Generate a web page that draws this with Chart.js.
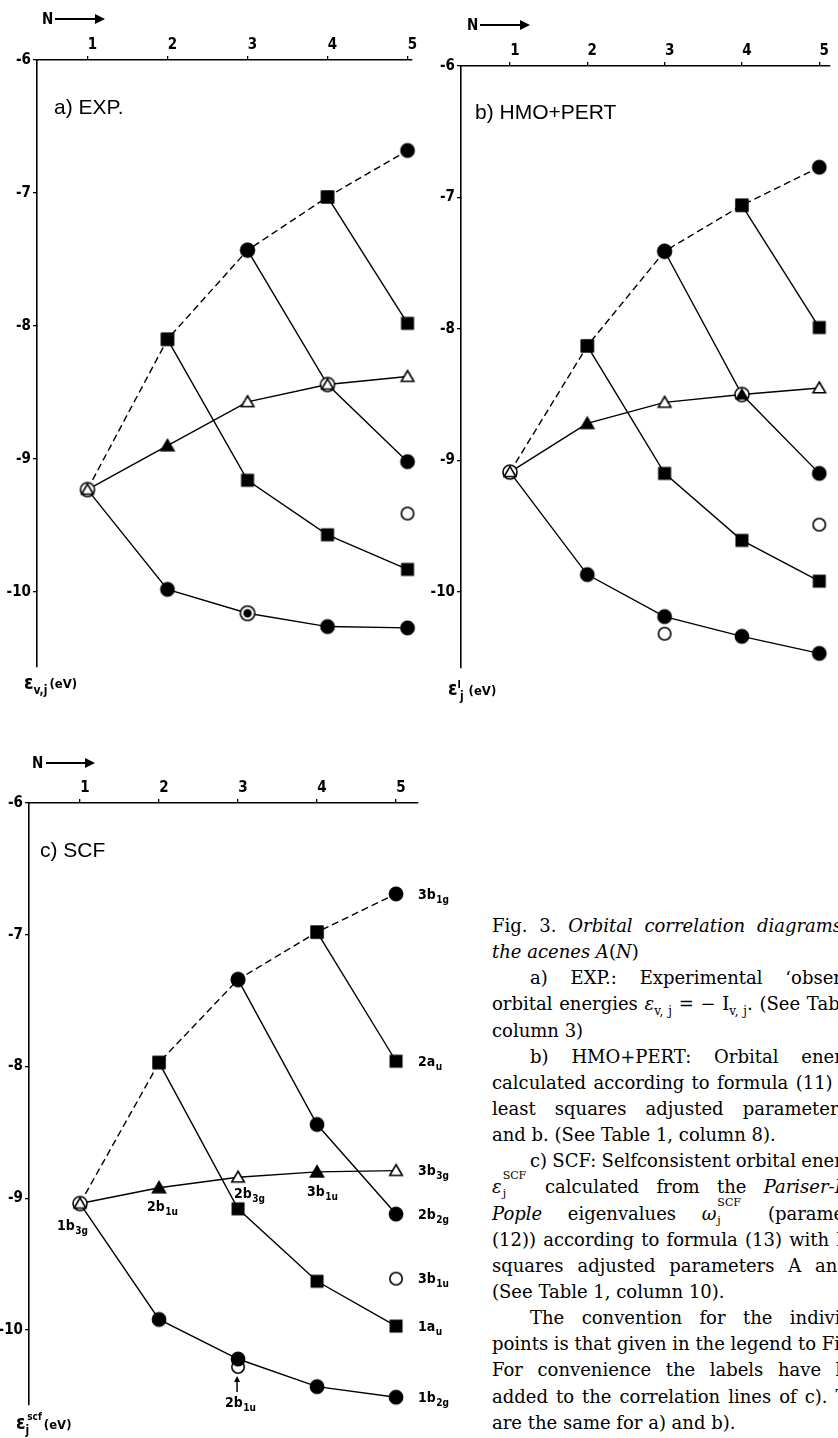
<!DOCTYPE html>
<html>
<head>
<meta charset="utf-8">
<title>Fig. 3 orbital correlation diagrams</title>
<script src="https://cdn.jsdelivr.net/npm/chart.js"></script>
<style>
  html, body { margin: 0; padding: 0; background: #fff; }
  body { position: relative; width: 838px; height: 1438px; overflow: hidden; color: #000; }
  canvas { position: absolute; }
  .lbl { position: absolute; white-space: nowrap; font-family: "DejaVu Sans Condensed", "DejaVu Sans", sans-serif; font-weight: bold; }
  .title { position: absolute; white-space: nowrap; font-family: "Liberation Sans", Arial, sans-serif; font-size: 21px; line-height: 24px; }
  .arrow { position: absolute; height: 0; border-top: 2px solid #000; }
  .arrow::after { content: ""; position: absolute; right: -9px; top: -6px; border-left: 10px solid #000; border-top: 5px solid transparent; border-bottom: 5px solid transparent; }
  #caption { position: absolute; left: 492px; top: 913px; font-family: "DejaVu Serif", serif; font-size: 18px; }
  #caption div { white-space: nowrap; height: 26.15px; line-height: 26.15px; }
  #caption sub, #caption sup { font-size: 12px; line-height: 0; }
  .ss { position: relative; display: inline-block; width: 26px; height: 1px; }
  .ss .sp, .ss .sb { position: absolute; left: 1px; font-size: 11px; line-height: 11px; }
  .ss .sp { top: -22px; }
  .ss .sb { top: -4px; }
</style>
</head>
<body>
<canvas id="chartA" width="420" height="680" style="left:0;top:0"></canvas>
<canvas id="chartB" width="418" height="680" style="left:420px;top:0"></canvas>
<canvas id="chartC" width="480" height="698" style="left:0;top:740px"></canvas>

<!-- N arrows -->
<div class="lbl" style="left:42px;top:10px;font-size:15px;line-height:18px">N</div>
<div class="arrow" style="left:55px;top:18px;width:41px"></div>
<div class="lbl" style="left:467px;top:16px;font-size:15px;line-height:18px">N</div>
<div class="arrow" style="left:480px;top:24px;width:41px"></div>
<div class="lbl" style="left:32px;top:754px;font-size:15px;line-height:18px">N</div>
<div class="arrow" style="left:46px;top:762px;width:40px"></div>

<!-- panel titles -->
<div class="title" style="left:54px;top:95px">a) EXP.</div>
<div class="title" style="left:475px;top:100px">b) HMO+PERT</div>
<div class="title" style="left:40px;top:838px">c) SCF</div>

<!-- y axis labels -->
<div class="lbl" style="left:24px;top:670px;font-size:13px;line-height:24px"><span style="font-size:19px">ε</span><span style="font-size:12px;position:relative;top:5px">v,j</span><span style="position:relative;top:-1px;margin-left:2px">(eV)</span></div>
<div class="lbl" style="left:448px;top:676px;font-size:13px;line-height:24px"><span style="font-size:19px">ε</span><span style="font-size:10px;position:relative;top:-7px">I</span><span style="font-size:12px;position:relative;top:5px;margin-left:-1px">j</span><span style="margin-left:5px">(eV)</span></div>
<div class="lbl" style="left:16px;top:1410px;font-size:13px;line-height:24px"><span style="font-size:19px">ε</span><span style="font-size:12px;position:relative;top:5px">j</span><span style="font-size:10px;position:relative;top:-9px;margin-left:-2px">scf</span><span style="margin-left:2px">(eV)</span></div>

<div id="caption"></div>

<script>
// N = number of rings in the acene A(N)
const nTicks = [1, 2, 3, 4, 5];
const eTicks = [-6, -7, -8, -9, -10];

// a) EXP.
const expUpper = [-9.23, -8.10, -7.43, -7.03, -6.68];   // N 1..5 (dashed)
const expFrom2 = [-8.10, -9.16, -9.57, -9.83];          // N 2..5
const expFrom3 = [-7.43, -8.44, -9.02];                 // N 3..5
const expFrom4 = [-7.03, -7.98];                        // N 4..5
const expTri   = [-9.23, -8.90, -8.57, -8.44, -8.38];   // N 1..5
const expLow   = [-9.23, -9.98, -10.16, -10.26, -10.27];// N 1..5
const expLoneN = [5];
const expLone  = [-9.41];

// b) HMO+PERT
const hmoUpper = [-9.09, -8.13, -7.41, -7.06, -6.77];
const hmoFrom2 = [-8.13, -9.10, -9.61, -9.92];
const hmoFrom3 = [-7.41, -8.50, -9.10];
const hmoFrom4 = [-7.06, -7.99];
const hmoTri   = [-9.09, -8.72, -8.56, -8.50, -8.45];
const hmoLow   = [-9.09, -9.87, -10.19, -10.34, -10.47];
const hmoLoneN = [5, 3];
const hmoLone  = [-9.49, -10.32];

// c) SCF
const scfUpper = [-9.04, -7.97, -7.34, -6.98, -6.69];
const scfFrom2 = [-7.97, -9.08, -9.63, -9.97];
const scfFrom3 = [-7.34, -8.44, -9.12];
const scfFrom4 = [-6.98, -7.96];
const scfTri   = [-9.04, -8.92, -8.84, -8.80, -8.79];
const scfLow   = [-9.04, -9.92, -10.22, -10.43, -10.51];
const scfLoneN = [5, 3];
const scfLone  = [-9.61, -10.28];

// orbital labels of panel c
const scfEndLabels = ['3b|1g', '2a|u', '3b|3g', '2b|2g', '3b|1u', '1a|u', '1b|2g'];
const scfEndValues = [scfUpper[4], scfFrom4[1], scfTri[4], scfFrom3[2], scfLone[0], scfFrom2[3], scfLow[4]];

// marker symbols, pre-drawn on little canvases
const markCache = {};
function markerImg(code) {
  if (markCache[code]) return markCache[code];
  const c = document.createElement('canvas');
  c.width = 20; c.height = 20;
  const g = c.getContext('2d');
  g.translate(10, 10);
  g.lineWidth = 1.6;
  g.strokeStyle = '#000';
  const circ = (r, fill) => { g.beginPath(); g.arc(0, 0, r, 0, Math.PI * 2); g.fillStyle = fill; g.fill(); g.stroke(); };
  const tri = (s, fill) => { g.beginPath(); g.moveTo(0, -s); g.lineTo(s * 1.05, s * 0.8); g.lineTo(-s * 1.05, s * 0.8); g.closePath(); g.fillStyle = fill; g.fill(); g.stroke(); };
  switch (code) {
    case 'c': circ(6.6, '#000'); break;
    case 'o': circ(6.2, '#fff'); break;
    case 's': g.fillStyle = '#000'; g.fillRect(-6.5, -6.5, 13, 13); break;
    case 't': tri(6.2, '#000'); break;
    case 'T': tri(6.0, '#fff'); break;
    case 'oT': circ(7, '#fff'); tri(5.6, '#fff'); break;
    case 'ot': circ(7, '#fff'); tri(5.2, '#000'); break;
    case 'oc': circ(7.2, '#fff'); g.beginPath(); g.arc(0, 0, 4.2, 0, Math.PI * 2); g.fillStyle = '#000'; g.fill(); break;
  }
  markCache[code] = c;
  return c;
}

function pts(ns, vals) {
  return vals.map((v, i) => ({x: ns[i], y: v}));
}

function lineSet(ns, vals, dashed) {
  return {
    data: pts(ns, vals), showLine: true, borderColor: '#000', borderWidth: 1.4,
    borderDash: dashed ? [7, 4] : [], pointRadius: 0, tension: 0, fill: false, clip: false, order: 3
  };
}

function markSet(ns, vals, codes, order) {
  return {
    data: pts(ns, vals), showLine: false, clip: false, order: order || 1,
    pointStyle: codes.map(c => c ? markerImg(c) : 'circle'),
    pointRadius: codes.map(c => c ? 7 : 0)
  };
}

function panelSets(up, f2, f3, f4, tri, low, loneN, lone, codes) {
  return [
    lineSet(nTicks, up, true),
    lineSet(nTicks.slice(1), f2),
    lineSet(nTicks.slice(2), f3),
    lineSet(nTicks.slice(3), f4),
    lineSet(nTicks, tri),
    lineSet(nTicks, low),
    markSet(nTicks, tri, codes.tri),
    markSet(nTicks, up, ['', 's', 'c', 's', 'c']),
    markSet(nTicks.slice(1), f2, ['s', 's', 's', 's']),
    markSet(nTicks.slice(2), f3, codes.f3),
    markSet(nTicks.slice(3), f4, ['s', 's']),
    markSet(nTicks, low, codes.low),
    markSet(loneN, lone, lone.map(() => 'o'), 2)
  ];
}

const tickFont = {family: "'DejaVu Sans Condensed', 'DejaVu Sans', sans-serif", size: 15, weight: 'bold'};

function makePanel(id, cfg, plugins) {
  return new Chart(document.getElementById(id), {
    type: 'line',
    data: {datasets: cfg.datasets},
    options: {
      responsive: false, animation: false, events: [],
      layout: {padding: cfg.padding},
      plugins: {legend: {display: false}, tooltip: {enabled: false}, title: {display: false}},
      scales: {
        x: {
          type: 'linear', position: 'top', min: cfg.xMin, max: cfg.xMax,
          afterBuildTicks: s => { s.ticks = nTicks.map(v => ({value: v})); },
          afterFit: s => { s.height = cfg.top; s.paddingLeft = 0; s.paddingRight = 0; },
          grid: {display: true, drawOnChartArea: false, tickLength: 4, color: '#000', lineWidth: 1.3},
          border: {display: true, color: '#000', width: 1.6},
          ticks: {color: '#000', font: tickFont, padding: 2, labelOffset: 5, autoSkip: false, maxRotation: 0}
        },
        y: {
          type: 'linear', position: 'left', min: cfg.yMin, max: -6,
          afterBuildTicks: s => { s.ticks = eTicks.map(v => ({value: v})); },
          afterFit: s => { s.width = cfg.left; s.paddingTop = 0; s.paddingBottom = 0; },
          grid: {display: true, drawOnChartArea: false, tickLength: 4, color: '#000', lineWidth: 1.3},
          border: {display: true, color: '#000', width: 1.6},
          ticks: {color: '#000', font: tickFont, padding: 2, autoSkip: false, callback: v => String(v)}
        }
      }
    },
    plugins: plugins || []
  });
}

function drawOrb(ctx, txt, x, y) {
  const [main, sub] = txt.split('|');
  ctx.textBaseline = 'middle';
  ctx.textAlign = 'left';
  ctx.font = "bold 14px 'DejaVu Sans Condensed', 'DejaVu Sans', sans-serif";
  ctx.fillText(main, x, y);
  const w = ctx.measureText(main).width;
  ctx.font = "bold 10px 'DejaVu Sans Condensed', 'DejaVu Sans', sans-serif";
  ctx.fillText(sub, x + w + 0.5, y + 5);
}

const orbLabels = {
  id: 'orbLabels',
  afterDatasetsDraw(chart) {
    const {ctx, scales: {x, y}} = chart;
    ctx.save();
    ctx.fillStyle = '#000';
    ctx.strokeStyle = '#000';
    const x5 = x.getPixelForValue(5);
    scfEndLabels.forEach((t, i) => drawOrb(ctx, t, x5 + 22, y.getPixelForValue(scfEndValues[i]) + 1));
    const inner = [
      {t: '1b|3g', n: 1, v: scfTri[0], dx: -23, dy: 23},
      {t: '2b|1u', n: 2, v: scfTri[1], dx: -12, dy: 20},
      {t: '2b|3g', n: 3, v: scfTri[2], dx: -4, dy: 17},
      {t: '3b|1u', n: 4, v: scfTri[3], dx: -10, dy: 20},
      {t: '2b|1u', n: 3, v: scfLone[1], dx: -13, dy: 36}
    ];
    inner.forEach(l => drawOrb(ctx, l.t, x.getPixelForValue(l.n) + l.dx, y.getPixelForValue(l.v) + l.dy));
    // small arrow pointing at the open circle of N = 3
    const ax = x.getPixelForValue(3) - 1, ay = y.getPixelForValue(scfLone[1]);
    ctx.lineWidth = 1.5;
    ctx.beginPath(); ctx.moveTo(ax, ay + 25); ctx.lineTo(ax, ay + 13); ctx.stroke();
    ctx.beginPath(); ctx.moveTo(ax, ay + 9); ctx.lineTo(ax + 3, ay + 15); ctx.lineTo(ax - 3, ay + 15); ctx.closePath(); ctx.fill();
    ctx.restore();
  }
};

makePanel('chartA', {
  datasets: panelSets(expUpper, expFrom2, expFrom3, expFrom4, expTri, expLow, expLoneN, expLone,
    {tri: ['oT', 't', 'T', 'oT', 'T'], f3: ['c', '', 'c'], low: ['', 'c', 'oc', 'c', 'c']}),
  xMin: 0.369, xMax: 5.056, yMin: -10.564, left: 37, top: 60,
  padding: {left: 0, top: 0, right: 8, bottom: 13}
});

makePanel('chartB', {
  datasets: panelSets(hmoUpper, hmoFrom2, hmoFrom3, hmoFrom4, hmoTri, hmoLow, hmoLoneN, hmoLone,
    {tri: ['oT', 't', 'T', 'ot', 'T'], f3: ['c', '', 'c'], low: ['', 'c', 'c', 'c', 'c']}),
  xMin: 0.367, xMax: 5.139, yMin: -10.581, left: 41, top: 66,
  padding: {left: 0, top: 0, right: 0, bottom: 12}
});

makePanel('chartC', {
  datasets: panelSets(scfUpper, scfFrom2, scfFrom3, scfFrom4, scfTri, scfLow, scfLoneN, scfLone,
    {tri: ['oT', 't', 'T', 't', 'T'], f3: ['c', 'c', 'c'], low: ['', 'c', 'c', 'c', 'c']}),
  xMin: 0.354, xMax: 5.278, yMin: -10.569, left: 29, top: 63,
  padding: {left: 0, top: 0, right: 62, bottom: 33}
}, [orbLabels]);

// caption (lines are clipped at the right page edge like the scan)
const SCF = '<span class="ss"><span class="sp">SCF</span><span class="sb">j</span></span>';
const capLines = [
  {h: 'Fig. 3. <i>Orbital correlation diagrams for</i>', j: true},
  {h: '<i>the acenes A</i>(<i>N</i>)'},
  {h: 'a) EXP.: Experimental ‘observed’', j: true, ind: true},
  {h: 'orbital energies <i>ε</i><sub>v, j</sub> = − I<sub>v, j</sub>. (See Table 1,', j: true},
  {h: 'column 3)'},
  {h: 'b) HMO+PERT: Orbital energies', j: true, ind: true},
  {h: 'calculated according to formula (11) with', j: true},
  {h: 'least squares adjusted parameters A', j: true},
  {h: 'and b. (See Table 1, column 8).'},
  {h: 'c) SCF: Selfconsistent orbital energies', j: true, ind: true},
  {h: '<i>ε</i>' + SCF + ' calculated from the <i>Pariser-Parr-</i>', j: true},
  {h: '<i>Pople</i> eigenvalues <i>ω</i>' + SCF + ' (parameters', j: true},
  {h: '(12)) according to formula (13) with least', j: true},
  {h: 'squares adjusted parameters A and b.', j: true},
  {h: '(See Table 1, column 10).'},
  {h: 'The convention for the individual', j: true, ind: true},
  {h: 'points is that given in the legend to Fig. 2.', j: true},
  {h: 'For convenience the labels have been', j: true},
  {h: 'added to the correlation lines of c). They', j: true},
  {h: 'are the same for a) and b).'}
];
const CAP_W = 388, IND = 38;
const cap = document.getElementById('caption');
capLines.forEach(l => {
  const d = document.createElement('div');
  d.innerHTML = '<span>' + l.h + '</span>';
  if (l.ind) d.style.paddingLeft = IND + 'px';
  cap.appendChild(d);
  if (l.j) {
    const s = d.firstChild;
    const w = s.getBoundingClientRect().width;
    const gaps = (s.textContent.match(/ /g) || []).length;
    const target = CAP_W - (l.ind ? IND : 0);
    if (gaps) s.style.wordSpacing = Math.max(-2, (target - w) / gaps) + 'px';
  }
});
</script>
</body>
</html>
